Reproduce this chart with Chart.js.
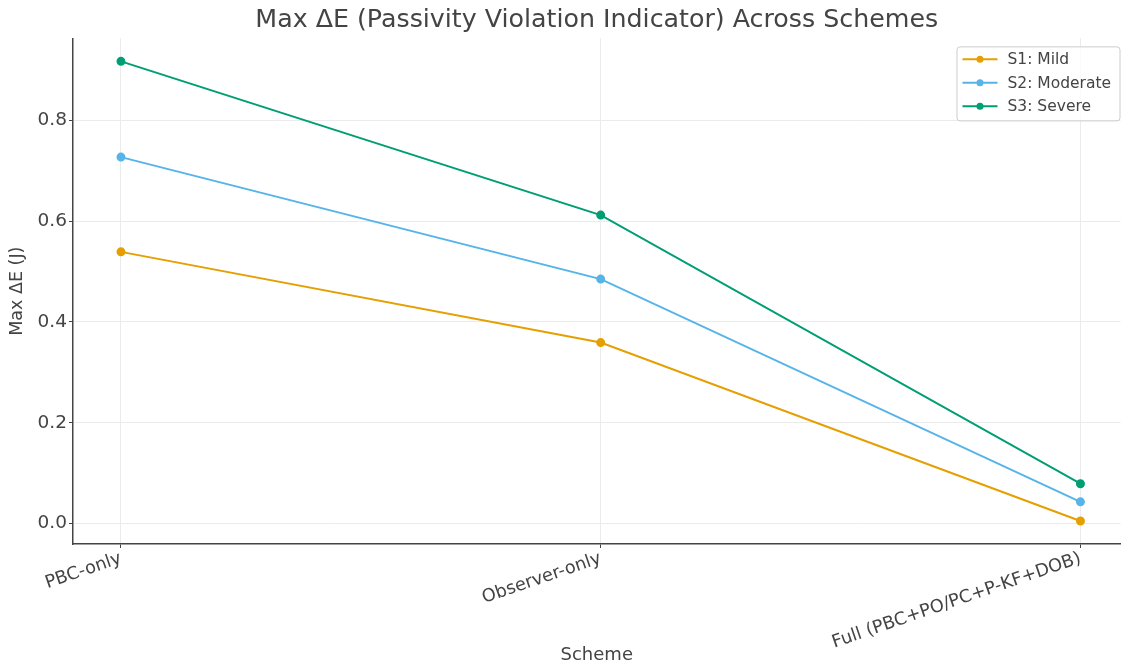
<!DOCTYPE html>
<html>
<head>
<meta charset="utf-8">
<script src="https://cdn.jsdelivr.net/npm/chart.js@4.4.1/dist/chart.umd.min.js"></script>
<style>
  html, body { margin: 0; padding: 0; background: #fff; }
  #wrap { width: 1126px; height: 672px; }
</style>
</head>
<body>
<div id="wrap"><canvas id="myChart"></canvas></div>
<script>
// Data
const schemes = ['PBC-only', 'Observer-only', 'Full (PBC+PO/PC+P-KF+DOB)'];
const seriesNames = ['S1: Mild', 'S2: Moderate', 'S3: Severe'];
const s1Mild = [0.539, 0.359, 0.005];
const s2Moderate = [0.727, 0.485, 0.043];
const s3Severe = [0.917, 0.612, 0.079];
const yTicks = [0, 0.2, 0.4, 0.6, 0.8];
const colors = ['#E69F00', '#56B4E9', '#009E73'];

const font = "'DejaVu Sans', 'Liberation Sans', sans-serif";

function toPoints(vals) {
  return vals.map((v, i) => ({ x: i, y: v }));
}

// legend drawn inside the plot, top right, like the original
const innerLegend = {
  id: 'innerLegend',
  afterDraw(chart) {
    const ctx = chart.ctx;
    const area = chart.chartArea;
    const w = 163, h = 74;
    const x0 = area.right - 1 - w;
    const y0 = area.top + 8;
    ctx.save();
    ctx.fillStyle = 'rgba(255,255,255,0.8)';
    ctx.strokeStyle = '#cccccc';
    ctx.lineWidth = 1;
    ctx.beginPath();
    ctx.roundRect(x0 + 0.5, y0 + 0.5, w, h, 3);
    ctx.fill();
    ctx.stroke();
    ctx.font = '15.5px ' + font;
    ctx.textBaseline = 'middle';
    chart.data.datasets.forEach((ds, i) => {
      const y = y0 + 13 + i * 23.5;
      ctx.strokeStyle = ds.borderColor;
      ctx.lineWidth = 2;
      ctx.beginPath();
      ctx.moveTo(x0 + 6, y);
      ctx.lineTo(x0 + 41, y);
      ctx.stroke();
      ctx.fillStyle = ds.borderColor;
      ctx.beginPath();
      ctx.arc(x0 + 23.5, y, 3.5, 0, Math.PI * 2);
      ctx.fill();
      ctx.fillStyle = '#444';
      ctx.fillText(ds.label, x0 + 51, y + 1);
    });
    ctx.restore();
  }
};

const ctx = document.getElementById('myChart');
new Chart(ctx, {
  type: 'line',
  data: {
    datasets: [s1Mild, s2Moderate, s3Severe].map((vals, i) => ({
      label: seriesNames[i],
      data: toPoints(vals),
      borderColor: colors[i],
      backgroundColor: colors[i],
      borderWidth: 2,
      pointRadius: 3.5,
      pointHoverRadius: 3.5,
      tension: 0
    }))
  },
  options: {
    responsive: true,
    maintainAspectRatio: false,
    animation: false,
    layout: { padding: { left: 0, right: 0, top: 0, bottom: 0 } },
    plugins: {
      legend: { display: false },
      tooltip: { enabled: false },
      title: {
        display: true,
        text: 'Max ΔE (Passivity Violation Indicator) Across Schemes',
        fullSize: false,
        color: '#444',
        font: { family: font, size: 25.3, weight: 'normal' },
        padding: { top: 5, bottom: 3 }
      }
    },
    scales: {
      x: {
        type: 'linear',
        min: -0.1,
        max: 2.0835,
        afterBuildTicks: (scale) => {
          scale.ticks = schemes.map((s, i) => ({ value: i }));
        },
        afterFit: (scale) => {
          scale.height = 128;
          scale.paddingLeft = 0;
          scale.paddingRight = 0;
        },
        ticks: {
          autoSkip: false,
          minRotation: 19,
          maxRotation: 19,
          padding: 0,
          color: '#444',
          font: { family: font, size: 17.8 },
          callback: (v) => schemes[v]
        },
        grid: {
          color: '#ebebeb',
          lineWidth: 1,
          tickColor: '#444',
          tickLength: 4
        },
        border: { color: '#444', width: 1.5 },
        title: {
          display: true,
          text: 'Scheme',
          color: '#444',
          font: { family: font, size: 18 },
          padding: { top: 4, bottom: 6 }
        }
      },
      y: {
        min: -0.0406,
        max: 0.9626,
        afterBuildTicks: (scale) => {
          scale.ticks = yTicks.map(v => ({ value: v }));
        },
        afterFit: (scale) => { scale.width = 73; },
        ticks: {
          padding: 2,
          color: '#444',
          font: { family: font, size: 18.5 },
          callback: (v) => v.toFixed(1)
        },
        grid: {
          color: '#ebebeb',
          lineWidth: 1,
          tickColor: '#444',
          tickLength: 4
        },
        border: { color: '#444', width: 1.5 },
        title: {
          display: true,
          text: 'Max ΔE (J)',
          color: '#444',
          font: { family: font, size: 17.5 },
          padding: { top: 7, bottom: 4 }
        }
      }
    }
  },
  plugins: [innerLegend]
});
</script>
</body>
</html>
